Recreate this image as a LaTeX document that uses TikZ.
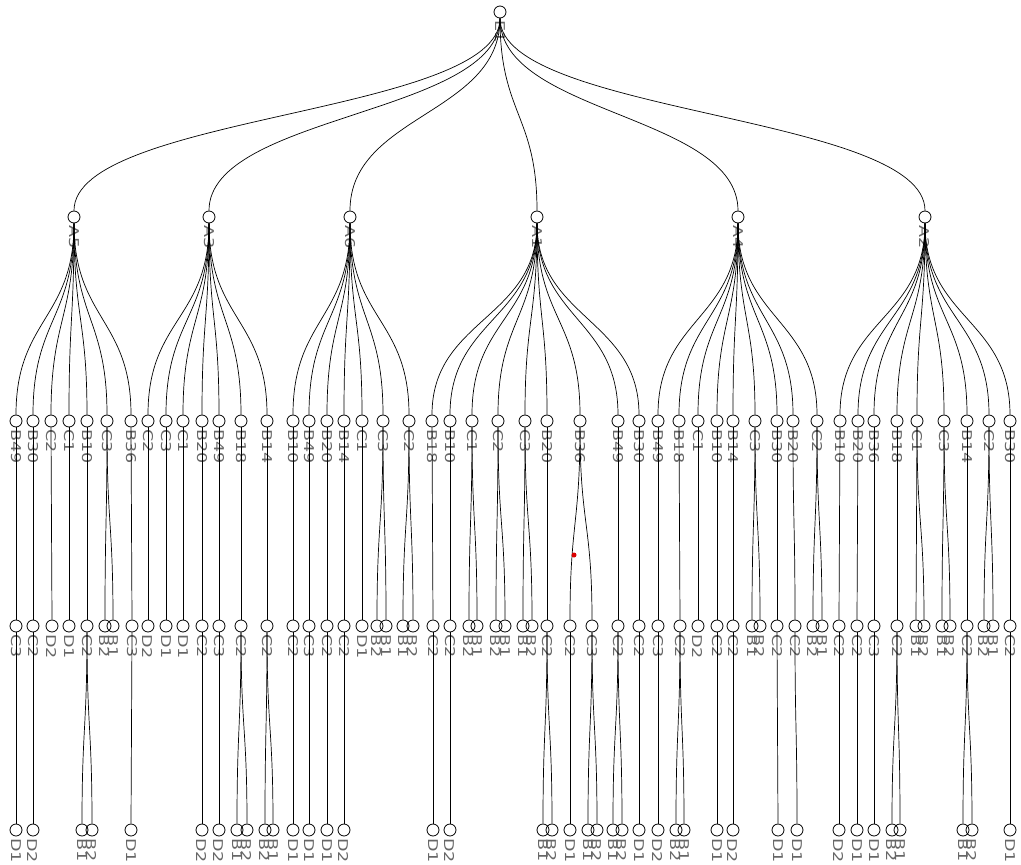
\documentclass[tikz,border=0pt]{standalone}
\usepackage{fontspec}
\setmainfont{DejaVu Sans}
\usetikzlibrary{calc}
\tikzset{
  vtx/.style={circle,draw=black,line width=0.8pt,minimum size=12pt,inner sep=0pt},
  lbl/.style={rotate=-90,anchor=west,inner sep=1.5pt,text=black!60,font=\fontsize{13.5}{14}\selectfont},
  edge/.style={draw=black,line width=0.7pt},
  reddot/.style={circle,fill=red!85!black,inner sep=0pt,minimum size=5pt},
}
\newcommand{\tn}[4]{\node[vtx] (#1) at (#2,#3) {}; \node[lbl] (#1l) at (#1.south) {\scalebox{1.3}[1]{#4}};}
\newcommand{\ed}[2]{\draw[edge] (#1.south) .. controls ($(#1.south)!0.5!(#1.south|-#2.north)$) and ($(#2.north)!0.5!(#2.north|-#1.south)$) .. (#2.north);}
\begin{document}
\begin{tikzpicture}[x=1pt,y=-1pt]
\useasboundingbox (0,0) rectangle (1021,865);
% root
\tn{r}{500}{12}{E1}
% level 1
\tn{a5}{74}{217}{A5}
\tn{a3}{209}{217}{A3}
\tn{a6}{350}{217}{A6}
\tn{a1}{537}{217}{A1}
\tn{a4}{738}{217}{A4}
\tn{a2}{925}{217}{A2}
% level 2
\foreach \n/\x/\t in {m16/16/B49,m33/33/B30,m51/51/C2,m69/69/C1,m87/87/B10,m107/107/C3,m131/131/B36,
  m148/148/C2,m166/166/C3,m183/183/C1,m202/202/B20,m219/219/B49,m241/241/B18,m267/267/B14,
  m293/293/B10,m309/309/B49,m327/327/B20,m344/344/B14,m362/362/C1,m383/383/C3,m409/409/C2,
  m432/432/B18,m450/450/B10,m472/472/C1,m498/498/C2,m525/525/C3,m547/547/B20,m580/580/B36,m618/618/B49,m639/639/B30,
  m658/658/B49,m679/679/B18,m698/698/C1,m717/717/B10,m733/733/B14,m755/755/C3,m777/777/B30,m793/793/B20,m817/817/C2,
  m840/840/B10,m858/858/B20,m874/874/B36,m897/897/B18,m917/917/C1,m944/944/C3,m967/967/B14,m989/989/C2,m1010/1010/B30}
  {\tn{\n}{\x}{421}{\t}}
% level 3
\foreach \n/\x/\t in {t16/16/C3,t33/33/C2,t52/52/D2,t69/69/D1,t87/87/C2,t105/105/B2,t113/113/B1,t132/132/C3,
  t148/148/D2,t166/166/D1,t183/183/D1,t202/202/C2,t219/219/C3,t241/241/C2,t267/267/C2,
  t293/293/C2,t309/309/C3,t327/327/C2,t344/344/C2,t362/362/D1,t377/377/B2,t386/386/B1,t403/403/B1,t413/413/B2,
  t433/433/C2,t450/450/C2,t469/469/B2,t477/477/B1,t496/496/B2,t505/505/B1,t523/523/B1,t532/532/B2,t547/547/C2,t570/570/C2,t592/592/C3,t618/618/C2,t639/639/C2,
  t658/658/C3,t680/680/C2,t698/698/D2,t717/717/C2,t733/733/C2,t752/752/B1,t760/760/B2,t777/777/C2,t795/795/C2,t813/813/B2,t822/822/B1,
  t839/839/C2,t857/857/C2,t874/874/C3,t897/897/C2,t916/916/B1,t924/924/B2,t942/942/B1,t950/950/B2,t967/967/C2,t984/984/B2,t993/993/B1,t1010/1010/C2}
  {\tn{\n}{\x}{626}{\t}}
% level 4
\foreach \n/\x/\t in {f16/16/D1,f33/33/D2,f82/82/B1,f92/92/B2,f131/131/D1,
  f202/202/D2,f219/219/D2,f237/237/B1,f247/247/B2,f265/265/B2,f273/273/B1,
  f293/293/D1,f309/309/D1,f327/327/D1,f344/344/D2,
  f433/433/D1,f450/450/D2,f543/543/B1,f552/552/B2,f570/570/D1,f588/588/B1,f597/597/B2,f613/613/B1,f622/622/B2,f639/639/D1,
  f658/658/D2,f676/676/B2,f684/684/B1,f717/717/D1,f733/733/D2,f778/778/D1,f797/797/D1,
  f839/839/D2,f857/857/D1,f874/874/D1,f892/892/B2,f900/900/B1,f963/963/B1,f972/972/B2,f1010/1010/D1}
  {\tn{\n}{\x}{830}{\t}}
% edges root
\foreach \c in {a5,a3,a6,a1,a4,a2} {\ed{r}{\c}}
% edges level 1 -> 2
\foreach \c in {m16,m33,m51,m69,m87,m107,m131} {\ed{a5}{\c}}
\foreach \c in {m148,m166,m183,m202,m219,m241,m267} {\ed{a3}{\c}}
\foreach \c in {m293,m309,m327,m344,m362,m383,m409} {\ed{a6}{\c}}
\foreach \c in {m432,m450,m472,m498,m525,m547,m580,m618,m639} {\ed{a1}{\c}}
\foreach \c in {m658,m679,m698,m717,m733,m755,m777,m793,m817} {\ed{a4}{\c}}
\foreach \c in {m840,m858,m874,m897,m917,m944,m967,m989,m1010} {\ed{a2}{\c}}
% edges level 2 -> 3
\foreach \p/\c in {m16/t16,m33/t33,m51/t52,m69/t69,m87/t87,m107/t105,m107/t113,m131/t132,
  m148/t148,m166/t166,m183/t183,m202/t202,m219/t219,m241/t241,m267/t267,
  m293/t293,m309/t309,m327/t327,m344/t344,m362/t362,m383/t377,m383/t386,m409/t403,m409/t413,
  m432/t433,m450/t450,m472/t469,m472/t477,m498/t496,m498/t505,m525/t523,m525/t532,m547/t547,m580/t570,m580/t592,m618/t618,m639/t639,
  m658/t658,m679/t680,m698/t698,m717/t717,m733/t733,m755/t752,m755/t760,m777/t777,m793/t795,m817/t813,m817/t822,
  m840/t839,m858/t857,m874/t874,m897/t897,m917/t916,m917/t924,m944/t942,m944/t950,m967/t967,m989/t984,m989/t993,m1010/t1010}
  {\ed{\p}{\c}}
% edges level 3 -> 4
\foreach \p/\c in {t16/f16,t33/f33,t87/f82,t87/f92,t132/f131,
  t202/f202,t219/f219,t241/f237,t241/f247,t267/f265,t267/f273,
  t293/f293,t309/f309,t327/f327,t344/f344,
  t433/f433,t450/f450,t547/f543,t547/f552,t570/f570,t592/f588,t592/f597,t618/f613,t618/f622,t639/f639,
  t658/f658,t680/f676,t680/f684,t717/f717,t733/f733,t777/f778,t795/f797,
  t839/f839,t857/f857,t874/f874,t897/f892,t897/f900,t967/f963,t967/f972,t1010/f1010}
  {\ed{\p}{\c}}
\node[reddot] (rd) at (574,555) {};
\end{tikzpicture}
\end{document}
